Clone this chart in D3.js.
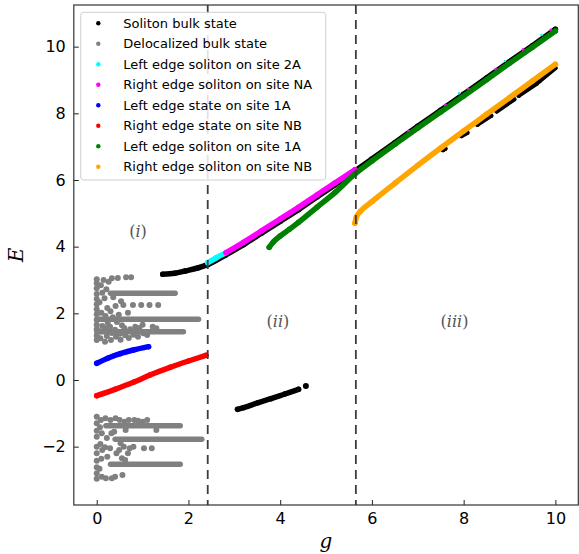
<!DOCTYPE html>
<html>
<head>
<meta charset="utf-8">
<script src="https://cdn.jsdelivr.net/npm/d3@7"></script>
<style>
  body { margin: 0; background: #fff; }
  svg { display: block; }
</style>
</head>
<body>
<svg id="chart" width="579" height="554"></svg>
<script>
// ---- data: [g, E] ----
const solitonBulkUpper = [[1.44, 3.17], [1.7, 3.2], [1.93, 3.27], [2.2, 3.36], [2.42, 3.46], [2.8, 3.74], [3.2, 4.06],
  [3.6, 4.41], [4.0, 4.76], [4.4, 5.11], [4.8, 5.49], [5.2, 5.86], [5.63, 6.27], [6.0, 6.63], [6.5, 7.12],
  [7.0, 7.61], [7.5, 8.09], [8.0, 8.57], [8.5, 9.06], [9.0, 9.55], [9.5, 10.03], [10.0, 10.52]];
const solitonBulkLowerII = [[3.07, -0.88], [3.2, -0.83], [3.52, -0.68], [3.8, -0.56], [4.1, -0.42], [4.4, -0.28]];
const solitonBulkDot = [[4.56, -0.18]];
const solitonBulkLowerIII = [
  [[7.55, 6.9], [7.6, 6.94]],
  [[7.95, 7.32], [8.08, 7.42]],
  [[8.3, 7.66], [8.6, 7.93]],
  [[8.72, 8.06], [9.1, 8.42]],
  [[9.2, 8.53], [9.6, 8.9]],
  [[9.65, 8.96], [10.0, 9.36]]
];
const delocBands = [
  {E: 1.45, g0: 0, g1: 1.89}, {E: 1.82, g0: 0, g1: 2.22}, {E: 2.6, g0: 0.3, g1: 1.71},
  {E: -1.37, g0: 0.2, g1: 1.82}, {E: -1.78, g0: 0.4, g1: 2.29}, {E: -2.53, g0: 0.3, g1: 1.82}
];
const delocPoints = [
  [0, 1.2], [0, 1.33], [0, 1.52], [0, 1.66], [0, 1.8], [0, 1.97], [0, 2.12], [0, 2.27], [0, 2.43], [0, 2.58], [0, 2.75], [0, 2.9], [0, 3.02],
  [0.08, 1.25], [0.07, 1.46], [0.12, 1.62], [0.1, 2.02], [0.06, 2.33], [0.12, 2.62], [0.09, 2.84], [0.15, 3.0],
  [0.18, 1.15], [0.22, 1.32], [0.2, 1.55], [0.24, 1.71], [0.19, 1.92], [0.23, 2.16], [0.17, 2.45], [0.21, 2.72], [0.26, 2.95],
  [0.31, 1.2], [0.33, 1.41], [0.29, 1.6], [0.35, 1.88], [0.3, 2.06], [0.36, 2.48], [0.33, 3.05],
  [0.42, 1.3], [0.4, 1.51], [0.44, 1.74], [0.41, 2.22], [0.46, 3.06], [0.52, 1.21], [0.5, 1.39], [0.55, 1.64], [0.48, 1.96], [0.53, 2.36],
  [0.62, 1.34], [0.6, 1.56], [0.58, 2.25], [0.64, 3.08], [0.7, 1.26], [0.73, 1.52], [0.68, 2.02], [0.75, 3.08],
  [0.8, 1.36], [0.84, 1.6], [0.79, 2.25], [0.9, 1.3], [0.93, 1.56], [0.97, 2.25], [1.02, 1.4], [1.0, 1.66],
  [1.1, 1.35], [1.15, 2.25], [1.22, 1.6], [1.3, 1.55], [1.34, 2.25],
  [0, -1.1], [0, -1.3], [0, -1.52], [0, -1.7], [0, -2.0], [0, -2.2], [0, -2.42], [0, -2.62], [0, -2.8], [0, -2.96],
  [0.09, -1.2], [0.07, -1.42], [0.11, -1.6], [0.08, -1.92], [0.12, -2.1], [0.1, -2.36], [0.06, -2.66], [0.11, -2.9],
  [0.19, -1.15], [0.22, -1.74], [0.18, -2.02], [0.23, -2.3], [0.2, -2.95],
  [0.3, -1.2], [0.32, -1.6], [0.29, -2.05], [0.33, -2.95], [0.41, -1.15], [0.38, -1.55], [0.43, -2.2], [0.4, -2.9],
  [0.5, -1.2], [0.52, -1.9], [0.49, -2.1], [0.55, -2.35], [0.56, -2.85], [0.61, -1.25], [0.63, -1.5], [0.59, -2.0], [0.62, -2.4],
  [0.7, -1.2], [0.72, -2.05], [0.68, -2.2], [0.82, -1.2], [0.8, -2.0], [0.9, -1.22], [1.0, -1.25], [1.03, -2.05],
  [1.1, -1.2], [1.2, -2.05], [1.3, -1.5]
];
const leftSoliton2A = [[2.42, 3.52], [2.6, 3.66], [2.82, 3.82]];
const rightSolitonNA = [[2.82, 3.82], [3.2, 4.13], [3.6, 4.48], [4.0, 4.83], [4.4, 5.18], [4.8, 5.55], [5.2, 5.92], [5.63, 6.31]];
const rightSolitonNADots = [[6.8, 7.47], [7.6, 8.25], [8.1, 8.73], [8.7, 9.32], [9.3, 9.91], [9.9, 10.5]];
const leftSoliton2ADots = [[7.9, 8.6], [8.9, 9.57], [9.7, 10.35]];
const leftState1A = [[0, 0.5], [0.25, 0.66], [0.51, 0.79], [0.8, 0.9], [1.13, 1.0]];
const rightStateNB = [[0, -0.47], [0.4, -0.28], [0.8, -0.07], [1.16, 0.15], [1.6, 0.38], [2.0, 0.57], [2.38, 0.74]];
const leftSoliton1A = [[3.76, 3.98], [3.85, 4.14], [4.0, 4.32], [4.2, 4.52], [4.4, 4.73], [4.8, 5.18], [5.2, 5.63], [5.63, 6.18],
  [6.0, 6.57], [6.5, 7.07], [7.0, 7.56], [7.5, 8.04], [8.0, 8.52], [8.5, 9.01], [9.0, 9.5], [9.5, 9.98], [10.0, 10.47]];
const rightSolitonNB = [[5.63, 4.7], [5.66, 4.88], [5.75, 5.06], [6.0, 5.35], [6.5, 5.9], [7.0, 6.44], [7.5, 6.96],
  [8.0, 7.47], [8.5, 7.97], [9.0, 8.47], [9.5, 8.97], [10.0, 9.47]];
const phaseBounds = [2.42, 5.65];
const xTicks = [0, 2, 4, 6, 8, 10];
const yTicks = [-2, 0, 2, 4, 6, 8, 10];
const legendLabels = ["Soliton bulk state", "Delocalized bulk state", "Left edge soliton on site 2A", "Right edge soliton on site NA",
  "Left edge state on site 1A", "Right edge state on site NB", "Left edge soliton on site 1A", "Right edge soliton on site NB"];
const legendColors = ["#000000", "#808080", "#00ffff", "#ff00ff", "#0000ff", "#ff0000", "#008000", "#ffa500"];

// ---- layout ----
const svg = d3.select("#chart");
const plot = {left: 73.8, top: 5, right: 578.3, bottom: 505};

const x = d3.scaleLinear().domain([-0.5, 10.5]).range([plot.left, plot.right]);
const y = d3.scaleLinear().domain([-3.75, 11.25]).range([plot.bottom, plot.top]);

svg.append("defs").append("clipPath").attr("id", "clip")
  .append("rect").attr("x", plot.left).attr("y", plot.top)
  .attr("width", plot.right - plot.left).attr("height", plot.bottom - plot.top);

const g = svg.append("g").attr("clip-path", "url(#clip)");
const line = d3.line().x(d => x(d[0])).y(d => y(d[1])).curve(d3.curveMonotoneX);

function drawCurve(data, color, width) {
  g.append("path").datum(data)
    .attr("d", line).attr("fill", "none").attr("stroke", color)
    .attr("stroke-width", width).attr("stroke-linecap", "round").attr("stroke-linejoin", "round");
  g.append("g").selectAll("circle").data(data).enter().append("circle")
    .attr("cx", d => x(d[0])).attr("cy", d => y(d[1])).attr("r", width / 2).attr("fill", color);
}

function drawDots(data, color, r) {
  g.append("g").selectAll("circle").data(data).enter().append("circle")
    .attr("cx", d => x(d[0])).attr("cy", d => y(d[1])).attr("r", r).attr("fill", color);
}

// soliton bulk (black)
drawCurve(solitonBulkUpper, "#000", 5.5);
drawCurve(solitonBulkLowerII, "#000", 5.5);
solitonBulkLowerIII.forEach(seg => drawCurve(seg, "#000", 4.5));
drawDots(solitonBulkDot, "#000", 3);

// delocalized bulk (gray)
g.append("g").selectAll("line").data(delocBands).enter().append("line")
  .attr("x1", d => x(d.g0)).attr("x2", d => x(d.g1))
  .attr("y1", d => y(d.E)).attr("y2", d => y(d.E))
  .attr("stroke", "#808080").attr("stroke-width", 5.5).attr("stroke-linecap", "round");
drawDots(delocPoints, "#808080", 3);

drawCurve(leftSoliton2A, "#00ffff", 5.5);
drawDots(leftSoliton2ADots, "#00ffff", 1.3);
drawCurve(rightSolitonNA, "#ff00ff", 5.5);
drawDots(rightSolitonNADots, "#ff00ff", 1.6);
drawCurve(leftState1A, "#0000ff", 5.5);
drawCurve(rightStateNB, "#ff0000", 5.5);
drawCurve(leftSoliton1A, "#008000", 5.5);
drawCurve(rightSolitonNB, "#ffa500", 5.5);

// phase boundaries
svg.append("g").selectAll("line").data(phaseBounds).enter().append("line")
  .attr("x1", d => x(d)).attr("x2", d => x(d))
  .attr("y1", plot.top).attr("y2", plot.bottom)
  .attr("stroke", "#45383a").attr("stroke-width", 1.8).attr("stroke-dasharray", "9,6");

// region labels
const regions = [{t: "i", g: 0.9, E: 4.45}, {t: "ii", g: 3.95, E: 1.75}, {t: "iii", g: 7.8, E: 1.75}];
regions.forEach(r => {
  const t = svg.append("text").attr("x", x(r.g)).attr("y", y(r.E)).attr("text-anchor", "middle")
    .attr("dominant-baseline", "middle")
    .style("font-family", "DejaVu Serif").style("font-size", "16px").style("fill", "#555");
  t.append("tspan").text("(");
  t.append("tspan").style("font-style", "italic").text(r.t);
  t.append("tspan").text(")");
});

// axes
const axisX = svg.append("g").attr("transform", `translate(0,${plot.bottom})`)
  .call(d3.axisBottom(x).tickValues(xTicks).tickSizeInner(-5).tickSizeOuter(0).tickPadding(7.5));
const axisY = svg.append("g").attr("transform", `translate(${plot.left},0)`)
  .call(d3.axisLeft(y).tickValues(yTicks).tickSizeInner(-5).tickSizeOuter(0).tickPadding(8)
    .tickFormat(d => d < 0 ? "\u2212" + Math.abs(d) : d));
[axisX, axisY].forEach(a => {
  a.select(".domain").remove();
  a.selectAll("text").style("font-family", "DejaVu Sans").style("font-size", "16px").style("fill", "#000");
  a.selectAll("line").attr("stroke", "#222");
});

// spines
svg.append("rect").attr("x", plot.left).attr("y", plot.top)
  .attr("width", plot.right - plot.left).attr("height", plot.bottom - plot.top)
  .attr("fill", "none").attr("stroke", "#333").attr("stroke-width", 1.2);

// axis titles
svg.append("text").attr("x", 326).attr("y", 548).attr("text-anchor", "middle")
  .style("font-family", "DejaVu Serif").style("font-style", "italic").style("font-size", "20px").text("g");
svg.append("text").attr("transform", "translate(23,255) rotate(-90)").attr("text-anchor", "middle")
  .style("font-family", "DejaVu Serif").style("font-style", "italic").style("font-size", "20px").text("E");

// legend
const legend = svg.append("g").attr("transform", "translate(80.7,12.3)");
legend.append("rect").attr("width", 245).attr("height", 167.7).attr("rx", 3)
  .attr("fill", "#fff").attr("fill-opacity", 0.85).attr("stroke", "#d0d0d0");
const items = legend.selectAll(".item").data(legendLabels).enter().append("g")
  .attr("transform", (d, i) => `translate(0,${11 + i * 20.5})`);
items.append("circle").attr("cx", 17.6).attr("cy", 0).attr("r", 2.2).attr("fill", (d, i) => legendColors[i]);
items.append("text").attr("x", 42.6).attr("y", 0).attr("dy", "0.35em")
  .style("font-family", "DejaVu Sans").style("font-size", "13px").style("fill", "#000").text(d => d);
</script>
</body>
</html>
